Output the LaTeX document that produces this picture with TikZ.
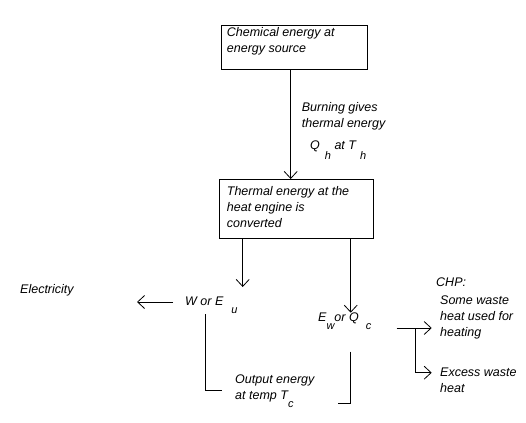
\documentclass[tikz,border=0pt]{standalone}
\usepackage{fontspec}
\setmainfont{Liberation Sans}
\usetikzlibrary{arrows.meta}
\newcommand{\sbs}[2][8pt]{\raisebox{-#1}{\fontsize{11}{11}\selectfont #2}}
\begin{document}
\begin{tikzpicture}[x=1pt,y=-1pt,
  txt/.style={anchor=base west, inner sep=0pt, align=left, font=\fontsize{12.5}{16}\selectfont\itshape},
  box/.style={draw, line width=0.8pt, inner sep=0pt, anchor=north west},
  conn/.style={line width=0.8pt},
  arr/.style={conn, -{Straight Barb[length=7pt,width=13pt]}}]
\useasboundingbox (0,0) rectangle (526,422);
% boxes
\node[box, minimum width=146pt, minimum height=44pt] (b1) at (221,25) {};
\node[box, minimum width=153.7pt, minimum height=59pt] (b2) at (219,179) {};
% texts (anchor at baseline of the last line)
\node[txt] (t1) at (226.7,52.7) {Chemical energy at\\energy source};
\node[txt] (burn) at (301.7,127.7) {Burning gives\\thermal energy};
\node[txt] (qh) at (310,149.3) {Q\hspace{5pt}\sbs[10pt]{h} at T\hspace{4pt}\sbs[10pt]{h}};
\node[txt] (t2) at (226.7,227.5) {Thermal energy at the\\heat engine is\\converted};
\node[txt] (elec) at (20,293.3) {Electricity};
\node[txt] (wnode) at (185,305) {W or E\hspace{8pt}\sbs{u}};
\node[txt] (out) at (235,399.5) {Output energy\\at temp T\sbs{c}};
\node[txt] (ewq) at (318,321.7) {E\sbs{w}or Q\hspace{7pt}\sbs{c}};
\node[txt] (chp) at (436,286.7) {CHP:};
\node[txt] (some) at (440,336.7) {Some waste\\heat used for\\heating};
\node[txt] (excess) at (440,392) {Excess waste\\heat};
% coordinates
\coordinate (wtip) at (242.7,287);
\coordinate (etip) at (350.7,312.7);
\coordinate (wl1) at (173,302);
\coordinate (wl2) at (137,302);
\coordinate (wd1) at (205.7,314);
\coordinate (wd2) at (205.7,390.7);
\coordinate (wd3) at (221.7,390.7);
\coordinate (ed1) at (350.7,351.7);
\coordinate (ed2) at (350.7,403);
\coordinate (ed3) at (338.3,403);
\coordinate (c1) at (396.7,328);
\coordinate (c2) at (431.7,328);
\coordinate (c3) at (415,328);
\coordinate (c4) at (415,372.7);
\coordinate (c5) at (431.7,372.7);
% connectors
\draw[arr] ([xshift=69.7pt]b1.south west) -- ([xshift=71.7pt]b2.north west);
\draw[arr] ([xshift=23.7pt]b2.south west) -- (wtip);
\draw[arr] ([xshift=131.7pt]b2.south west) -- (etip);
\draw[arr] (wl1) -- (wl2);
\draw[conn] (wd1) -- (wd2) -- (wd3);
\draw[conn] (ed1) -- (ed2) -- (ed3);
\draw[arr] (c1) -- (c2);
\draw[arr] (c3) -- (c4) -- (c5);
\end{tikzpicture}
\end{document}
